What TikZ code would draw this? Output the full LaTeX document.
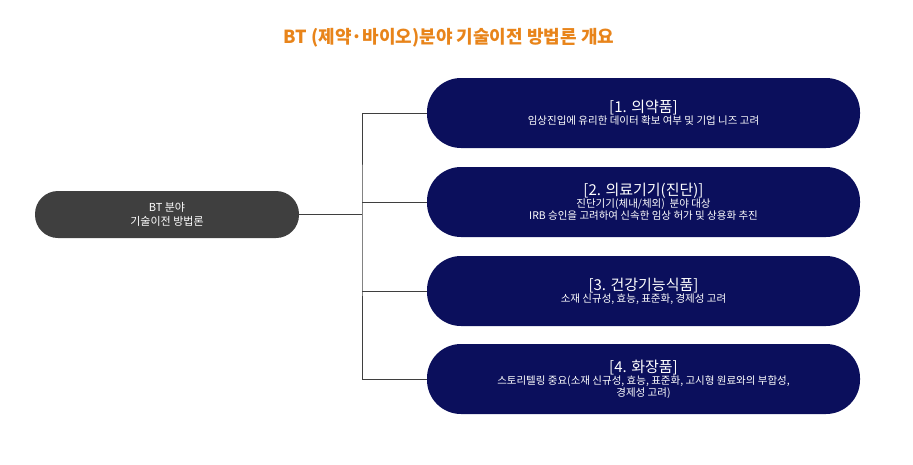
\documentclass[tikz,border=0pt]{standalone}
\usepackage{fontspec}
\setmainfont{Noto Sans CJK KR}
\definecolor{navy}{HTML}{0B0F5C}
\definecolor{darkg}{HTML}{3F3F3F}
\definecolor{orng}{HTML}{E8841A}
\begin{document}
\begin{tikzpicture}[x=1pt,y=-1pt,
  pill/.style={fill=navy,rounded corners=34pt,minimum width=433pt,minimum height=70pt,text=white,align=center,inner sep=0pt},
  lnode/.style={fill=darkg,rounded corners=23pt,minimum width=264pt,minimum height=47pt,text=white,align=center,font=\fontsize{11}{14}\selectfont},
  hd/.style={font=\fontsize{15}{18}\selectfont},
  conn/.style={draw=darkg,line width=0.8pt}]
\useasboundingbox (0,0) rectangle (913,464);
\node[font=\fontsize{18}{22}\selectfont\bfseries,text=orng] (title) at (449,38) {BT (제약·바이오)분야 기술이전 방법론 개요};
\node[lnode] (l) at (167,214.5) {BT 분야\\기술이전 방법론};
\node[pill] (b1) at (643.5,113) {{\fontsize{15}{20}\selectfont [1. 의약품]}\\{\fontsize{10.5}{14}\selectfont 임상진입에 유리한 데이터 확보 여부 및 기업 니즈 고려}};
\node[pill] (b2) at (643.5,202) {{\fontsize{15}{20}\selectfont [2. 의료기기(진단)]}\\{\fontsize{10.5}{14}\selectfont 진단기기(체내/체외)\ \ 분야 대상}\\{\fontsize{10.5}{14}\selectfont IRB 승인을 고려하여 신속한 임상 허가 및 상용화 추진}};
\node[pill] (b3) at (643.5,291) {{\fontsize{15}{20}\selectfont [3. 건강기능식품]}\\{\fontsize{10.5}{14}\selectfont 소재 신규성, 효능, 표준화, 경제성 고려}};
\node[pill] (b4) at (643.5,379) {{\fontsize{15}{20}\selectfont [4. 화장품]}\\{\fontsize{10.5}{14}\selectfont 스토리텔링 중요(소재 신규성, 효능, 표준화, 고시형 원료와의 부합성,}\\{\fontsize{10.5}{14}\selectfont 경제성 고려)}};
\coordinate (j) at (362,214.5);
\draw[conn] (l.east) -- (j);
\draw[conn] (b1.west) -| (j) |- (b4.west);
\draw[conn] (b2.west) -- (b2.west -| j);
\draw[conn] (b3.west) -- (b3.west -| j);
\end{tikzpicture}
\end{document}
